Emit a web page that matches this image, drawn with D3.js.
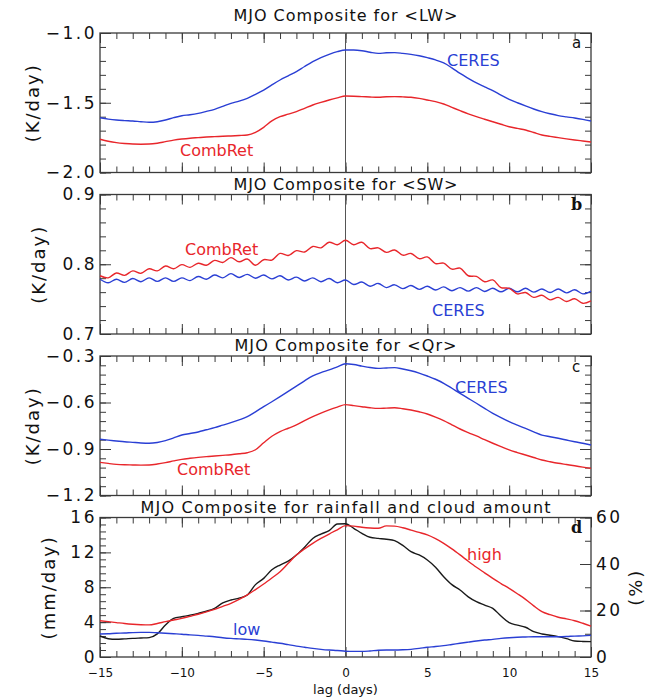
<!DOCTYPE html>
<html><head><meta charset="utf-8">
<script src="https://cdn.jsdelivr.net/npm/d3@7"></script>
<style>body{margin:0;background:#fff}svg{display:block}</style>
</head><body>
<svg id="c" width="646" height="700"></svg>
<script>
// lag (days), half-day steps
const lags = d3.range(-15, 15.001, 0.5);

// (a) LW heating, K/day
const lwCERES = [-1.607,-1.617,-1.624,-1.628,-1.631,-1.636,-1.640,-1.636,-1.624,-1.607,-1.593,-1.586,-1.576,-1.562,-1.547,-1.526,-1.504,-1.488,-1.468,-1.440,-1.409,-1.372,-1.337,-1.307,-1.277,-1.240,-1.205,-1.176,-1.153,-1.134,-1.122,-1.122,-1.127,-1.138,-1.146,-1.142,-1.141,-1.146,-1.153,-1.163,-1.177,-1.193,-1.215,-1.250,-1.290,-1.325,-1.358,-1.386,-1.413,-1.445,-1.475,-1.500,-1.523,-1.545,-1.564,-1.579,-1.592,-1.601,-1.609,-1.619,-1.631];
const lwComb = [-1.762,-1.776,-1.786,-1.792,-1.796,-1.797,-1.796,-1.790,-1.779,-1.768,-1.760,-1.754,-1.750,-1.746,-1.743,-1.740,-1.738,-1.735,-1.731,-1.712,-1.676,-1.630,-1.600,-1.582,-1.564,-1.540,-1.516,-1.497,-1.480,-1.465,-1.452,-1.453,-1.456,-1.459,-1.461,-1.457,-1.456,-1.458,-1.461,-1.469,-1.480,-1.492,-1.509,-1.533,-1.557,-1.580,-1.600,-1.618,-1.636,-1.654,-1.672,-1.684,-1.695,-1.713,-1.731,-1.741,-1.750,-1.759,-1.767,-1.774,-1.781];

// (b) SW heating, K/day
const swCERES = [0.7785,0.7735,0.7785,0.774,0.7795,0.775,0.7805,0.7755,0.7805,0.7755,0.7805,0.7765,0.7825,0.7785,0.7845,0.7805,0.7865,0.781,0.7855,0.780,0.7845,0.779,0.7835,0.7775,0.7815,0.776,0.7805,0.775,0.7795,0.7735,0.7775,0.771,0.7745,0.7685,0.7725,0.7665,0.7705,0.765,0.7695,0.764,0.7685,0.763,0.7675,0.762,0.7665,0.7615,0.7665,0.761,0.7655,0.7605,0.7655,0.7605,0.7655,0.760,0.7645,0.7595,0.7645,0.759,0.7635,0.7575,0.7615];
const swComb = [0.7835,0.7805,0.7875,0.784,0.7905,0.787,0.7935,0.7905,0.7975,0.7935,0.7995,0.7955,0.8015,0.7985,0.8055,0.8025,0.8095,0.8035,0.8075,0.7985,0.8065,0.806,0.8155,0.8125,0.8195,0.8175,0.8255,0.8235,0.8315,0.828,0.8345,0.828,0.8315,0.8225,0.8235,0.817,0.8205,0.813,0.8155,0.808,0.8105,0.801,0.8015,0.793,0.7945,0.7835,0.7825,0.775,0.7775,0.7665,0.7655,0.7575,0.7595,0.7525,0.7555,0.749,0.7525,0.7465,0.7505,0.744,0.7475];

// (c) Net radiative heating Qr, K/day
const qrCERES = [-0.837,-0.843,-0.848,-0.853,-0.857,-0.861,-0.863,-0.858,-0.846,-0.828,-0.810,-0.800,-0.790,-0.776,-0.762,-0.746,-0.730,-0.712,-0.691,-0.660,-0.627,-0.595,-0.562,-0.528,-0.494,-0.460,-0.429,-0.407,-0.390,-0.370,-0.350,-0.355,-0.365,-0.374,-0.380,-0.377,-0.375,-0.384,-0.395,-0.410,-0.429,-0.450,-0.476,-0.508,-0.541,-0.573,-0.605,-0.638,-0.670,-0.698,-0.724,-0.746,-0.767,-0.789,-0.810,-0.821,-0.831,-0.842,-0.853,-0.863,-0.874];
const qrComb = [-0.986,-0.993,-0.999,-1.002,-1.003,-1.004,-1.003,-0.997,-0.988,-0.977,-0.967,-0.960,-0.954,-0.949,-0.945,-0.941,-0.937,-0.931,-0.924,-0.905,-0.860,-0.818,-0.788,-0.766,-0.745,-0.717,-0.691,-0.668,-0.648,-0.630,-0.614,-0.620,-0.627,-0.634,-0.638,-0.636,-0.634,-0.640,-0.648,-0.660,-0.674,-0.694,-0.717,-0.744,-0.771,-0.794,-0.816,-0.840,-0.863,-0.885,-0.906,-0.923,-0.939,-0.955,-0.971,-0.982,-0.992,-1.000,-1.008,-1.017,-1.025];

// (d) rainfall (mm/day), high & low cloud amount (%)
const rain = [2.41,2.10,2.03,2.08,2.14,2.18,2.22,2.65,3.67,4.43,4.62,4.80,5.01,5.25,5.58,6.20,6.54,6.75,7.11,8.30,9.02,10.00,10.55,11.00,11.70,12.60,13.60,14.10,14.49,15.25,15.28,14.76,14.19,13.73,13.61,13.50,13.34,12.80,12.08,11.70,11.13,10.30,9.21,8.30,7.68,6.90,6.34,5.95,5.58,4.70,3.93,3.65,3.41,2.90,2.64,2.50,2.33,2.10,1.84,1.78,1.76];
const highCloud = [15.6,15.2,14.8,14.4,14.1,13.9,13.8,14.4,15.2,15.9,16.6,17.5,18.4,19.4,20.5,21.8,23.1,24.8,26.7,29.0,31.4,34.0,36.7,40.3,43.9,46.5,48.9,51.0,52.9,54.7,56.5,56.3,55.8,55.5,55.4,56.4,56.3,55.6,54.6,53.6,52.5,50.9,48.9,46.5,43.9,41.2,38.6,36.2,33.8,31.6,29.5,27.2,24.8,22.0,19.5,18.2,17.1,16.4,15.6,14.5,13.3];
const lowCloud = [9.9,10.0,10.2,10.3,10.5,10.6,10.6,10.4,10.2,10.0,9.8,9.5,9.3,9.0,8.7,8.3,8.0,7.8,7.6,7.3,6.9,6.4,5.9,5.3,4.7,4.2,3.7,3.3,3.0,2.8,2.5,2.4,2.4,2.6,2.9,3.0,3.0,3.1,3.3,3.7,4.2,4.5,4.9,5.4,5.9,6.4,6.9,7.3,7.6,8.0,8.3,8.5,8.6,8.7,8.7,8.7,8.7,8.8,9.0,9.1,9.3];

// tick labels
const xLabels = [-15,-10,-5,0,5,10,15];
const yTicksA = [-2.0,-1.5,-1.0];
const yTicksB = [0.7,0.8,0.9];
const yTicksC = [-1.2,-0.9,-0.6,-0.3];
const yTicksD = [0,4,8,12,16];
const pctTicks = [0,20,40,60];
const titles = ["MJO Composite for <LW>","MJO Composite for <SW>","MJO Composite for <Qr>","MJO Composite for rainfall and cloud amount"];

const BLUE = "#2a3fd4", RED = "#e8262b", INK = "#3a3a3a";
const svg = d3.select("#c");
const X0 = 100, X1 = 591, H = 139.5;
const tops = [33, 194.5, 356, 517.5];
const x = d3.scaleLinear().domain([-15, 15]).range([X0, X1]);
const minorX = d3.range(-15, 15.001, 1);

function clean(g){ g.select(".domain").remove(); g.selectAll("line").attr("stroke", INK).attr("stroke-width", 1); }

function ticks(g, axis, tr){ g.append("g").attr("transform", tr).call(axis).call(clean); }

function panel(i, ydom, yMajor, yMinorStep, opts){
  const top = tops[i], bot = top + H;
  const y = d3.scaleLinear().domain(ydom).range([bot, top]);
  const g = svg.append("g");
  const yMinor = d3.range(ydom[0], ydom[1] + yMinorStep/2, yMinorStep);
  // x ticks (inward)
  ticks(g, d3.axisBottom(x).tickValues(minorX).tickSize(6).tickFormat(""), `translate(0,${top})`);
  ticks(g, d3.axisBottom(x).tickValues(xLabels).tickSize(10).tickFormat(""), `translate(0,${top})`);
  ticks(g, d3.axisTop(x).tickValues(minorX).tickSize(6).tickFormat(""), `translate(0,${bot})`);
  ticks(g, d3.axisTop(x).tickValues(xLabels).tickSize(10).tickFormat(""), `translate(0,${bot})`);
  // left y ticks
  ticks(g, d3.axisRight(y).tickValues(yMinor).tickSize(6).tickFormat(""), `translate(${X0},0)`);
  ticks(g, d3.axisRight(y).tickValues(yMajor).tickSize(11).tickFormat(""), `translate(${X0},0)`);
  if (!opts.right){
    ticks(g, d3.axisLeft(y).tickValues(yMinor).tickSize(6).tickFormat(""), `translate(${X1},0)`);
    ticks(g, d3.axisLeft(y).tickValues(yMajor).tickSize(11).tickFormat(""), `translate(${X1},0)`);
  }
  // left labels
  const la = g.append("g").attr("transform", `translate(${X0},0)`)
    .call(d3.axisLeft(y).tickValues(yMajor).tickSize(0).tickPadding(3).tickFormat(opts.fmt));
  la.select(".domain").remove();
  la.selectAll("text").attr("font-family","DejaVu Sans").attr("font-size",17).attr("letter-spacing","2.5px").attr("fill","#111");
  // frame
  g.append("rect").attr("x", X0).attr("y", top).attr("width", X1 - X0).attr("height", H)
    .attr("fill", "none").attr("stroke", INK).attr("stroke-width", 1.3);
  // lag-0 line
  g.append("line").attr("x1", x(0)).attr("x2", x(0)).attr("y1", top).attr("y2", bot)
    .attr("stroke", "#555").attr("stroke-width", 1);
  // title
  g.append("text").attr("x", (X0 + X1)/2).attr("y", opts.titleY).attr("text-anchor","middle")
    .attr("font-family","DejaVu Sans").attr("font-size",16).attr("fill","#111")
    .attr("textLength", opts.titleW).attr("lengthAdjust","spacing").text(titles[i]);
  // y title
  g.append("text").attr("transform", `translate(${opts.ytX},${top + H/2}) rotate(-90)`)
    .attr("text-anchor","middle").attr("font-family","DejaVu Sans").attr("font-size",18)
    .attr("letter-spacing","2px").attr("fill","#111").text(opts.ytitle);
  return {g, y, top, bot};
}

function curve(g, ys, yscale, color, c){
  const line = d3.line().x((d, k) => x(lags[k])).y(d => yscale(d)).curve(c || d3.curveMonotoneX);
  g.append("path").datum(ys).attr("d", line).attr("fill","none").attr("stroke", color).attr("stroke-width", 1.4);
}

function label(g, txt, xx, yy, color, opt){
  const t = g.append("text").attr("x", xx).attr("y", yy).attr("fill", color).text(txt);
  if (opt === "serif") t.attr("font-family","DejaVu Serif").attr("font-weight","bold").attr("font-size",16);
  else t.attr("font-family","DejaVu Sans").attr("font-size", opt || 16);
}

const f1 = d3.format(".1f");
// (a)
const pa = panel(0, [-2.0, -1.0], yTicksA, 0.1, {fmt: f1, titleY: 21, titleW: 224, ytX: 39, ytitle: "(K/day)"});
curve(pa.g, lwCERES, pa.y, BLUE);
curve(pa.g, lwComb, pa.y, RED);
label(pa.g, "CERES", 447, 66, BLUE);
label(pa.g, "CombRet", 180, 156, RED);
label(pa.g, "a", 572, 48, "#111", 15);

// (b)
const pb = panel(1, [0.7, 0.9], yTicksB, 0.02, {fmt: f1, titleY: 189.5, titleW: 224, ytX: 45, ytitle: "(K/day)"});
curve(pb.g, swCERES, pb.y, BLUE, d3.curveCatmullRom);
curve(pb.g, swComb, pb.y, RED, d3.curveCatmullRom);
label(pb.g, "CERES", 432, 316, BLUE);
label(pb.g, "CombRet", 185, 255, RED);
label(pb.g, "b", 571, 210, "#111", "serif");

// (c)
const pc = panel(2, [-1.2, -0.3], yTicksC, 0.06, {fmt: f1, titleY: 350.5, titleW: 222, ytX: 39, ytitle: "(K/day)"});
curve(pc.g, qrCERES, pc.y, BLUE);
curve(pc.g, qrComb, pc.y, RED);
label(pc.g, "CERES", 455, 393, BLUE);
label(pc.g, "CombRet", 177, 475, RED);
label(pc.g, "c", 572, 371.5, "#111", 15);

// (d)
const pd = panel(3, [0, 16], yTicksD, 0.8, {fmt: d3.format("d"), titleY: 513, titleW: 410, ytX: 55, ytitle: "(mm/day)", right: true});
const yp = d3.scaleLinear().domain([0, 60]).range([pd.bot, pd.top]);
ticks(pd.g, d3.axisLeft(yp).tickValues(d3.range(0, 60.1, 10)).tickSize(6).tickFormat(""), `translate(${X1},0)`);
ticks(pd.g, d3.axisLeft(yp).tickValues(pctTicks).tickSize(11).tickFormat(""), `translate(${X1},0)`);
const ra = pd.g.append("g").attr("transform", `translate(${X1},0)`)
  .call(d3.axisRight(yp).tickValues(pctTicks).tickSize(0).tickPadding(5).tickFormat(d3.format("d")));
ra.select(".domain").remove();
ra.selectAll("text").attr("font-family","DejaVu Sans").attr("font-size",17).attr("letter-spacing","2.5px").attr("fill","#111");
pd.g.append("text").attr("transform", `translate(642,${pd.top + H/2}) rotate(-90)`)
  .attr("text-anchor","middle").attr("font-family","DejaVu Sans").attr("font-size",18)
  .attr("letter-spacing","2px").attr("fill","#111").text("(%)");
const xa = pd.g.append("g").attr("transform", `translate(0,${pd.bot})`)
  .call(d3.axisBottom(x).tickValues(xLabels).tickSize(0).tickPadding(11).tickFormat(d3.format("d")));
xa.select(".domain").remove();
xa.selectAll("text").attr("font-family","DejaVu Sans").attr("font-size",12).attr("fill","#111");
pd.g.append("text").attr("x", (X0 + X1)/2).attr("y", 694).attr("text-anchor","middle")
  .attr("font-family","DejaVu Sans").attr("font-size",13).attr("fill","#111").text("lag (days)");
curve(pd.g, rain, pd.y, "#1a1a1a");
curve(pd.g, highCloud, yp, RED);
curve(pd.g, lowCloud, yp, BLUE);
label(pd.g, "high", 467, 560, RED);
label(pd.g, "low", 233, 635, BLUE);
label(pd.g, "d", 571, 532.5, "#111", "serif");
</script>
</body></html>
